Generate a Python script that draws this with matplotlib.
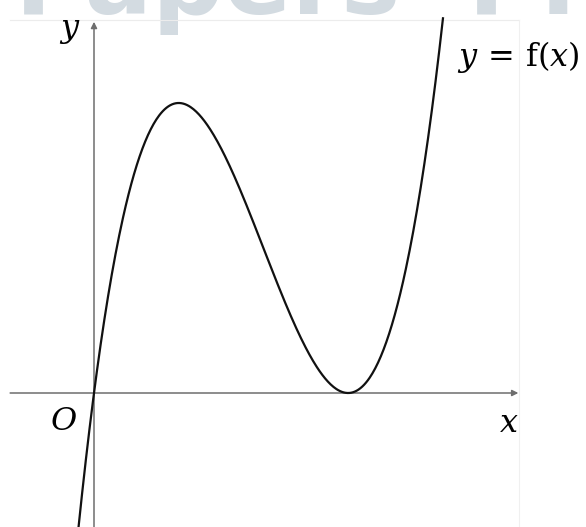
import numpy as np
import matplotlib
matplotlib.use("Agg")
import matplotlib.pyplot as plt

# cubic y = k * (x - r1)(x - r2)(x - r3)
roots = [0.0, 3.0, 3.0]       # crosses at O, touches the x axis at 3
turning_point = (1.0, 4.0)    # local maximum
x_start, x_end = -0.25, 4.12  # visible part of the curve

# axes extent in data units
x_axis = (-0.99, 5.01)
y_axis = (-1.85, 5.12)

watermark = ["Papers", "PM"]
watermark_x = [-0.93, 4.42]


def f(x):
    '''cubic through the given roots, scaled to the turning point.'''
    base = np.prod([x - r for r in roots], axis=0)
    tx, ty = turning_point
    k = ty / np.prod([tx - r for r in roots])
    return k * base


plt.rcParams["mathtext.fontset"] = "dejavuserif"

fig = plt.figure(figsize=(5.86, 5.27), dpi=100)
ax = fig.add_axes([0, 0, 1, 1])
ax.set_xlim(-94 / 84.7, 492 / 84.7)
ax.set_ylim(-134 / 72.5, 393 / 72.5)
ax.axis("off")

# watermark, cut off by the top edge
for word, wx in zip(watermark, watermark_x):
    ax.text(wx, (393 - 14) / 72.5, word, fontsize=72, fontweight="bold",
            color="#d3dbe1", ha="left", va="baseline",
            family="DejaVu Sans", zorder=0)

# faint frame of the original picture
ax.plot([x_axis[0], 5.02], [5.15, 5.15], color="#ececec", lw=0.8, zorder=1)
ax.plot([5.02, 5.02], [y_axis[0], 5.15], color="#f0f0f0", lw=0.8, zorder=1)

# axes with arrow heads
arrow = dict(arrowstyle="-|>", color="#6e6e6e", lw=1.1,
             mutation_scale=9, shrinkA=0, shrinkB=0)
ax.annotate("", xy=(x_axis[1], 0), xytext=(x_axis[0], 0), arrowprops=arrow)
ax.annotate("", xy=(0, y_axis[1]), xytext=(0, y_axis[0]), arrowprops=arrow)

# the curve
xs = np.linspace(x_start, x_end, 400)
ax.plot(xs, f(xs), color="#111111", lw=1.6, zorder=3)

# labels
ax.text(-0.16, 5.0, "$y$", fontsize=23, ha="right", va="center")
ax.text(-0.2, -0.4, "$O$", fontsize=23, ha="right", va="center")
ax.text(4.9, -0.42, "$x$", fontsize=23, ha="center", va="center")
ax.text(4.28, 4.64, r"$y\,=\,\mathrm{f}(x)$", fontsize=23, ha="left",
        va="center")

fig.savefig("out.png", dpi=100)
